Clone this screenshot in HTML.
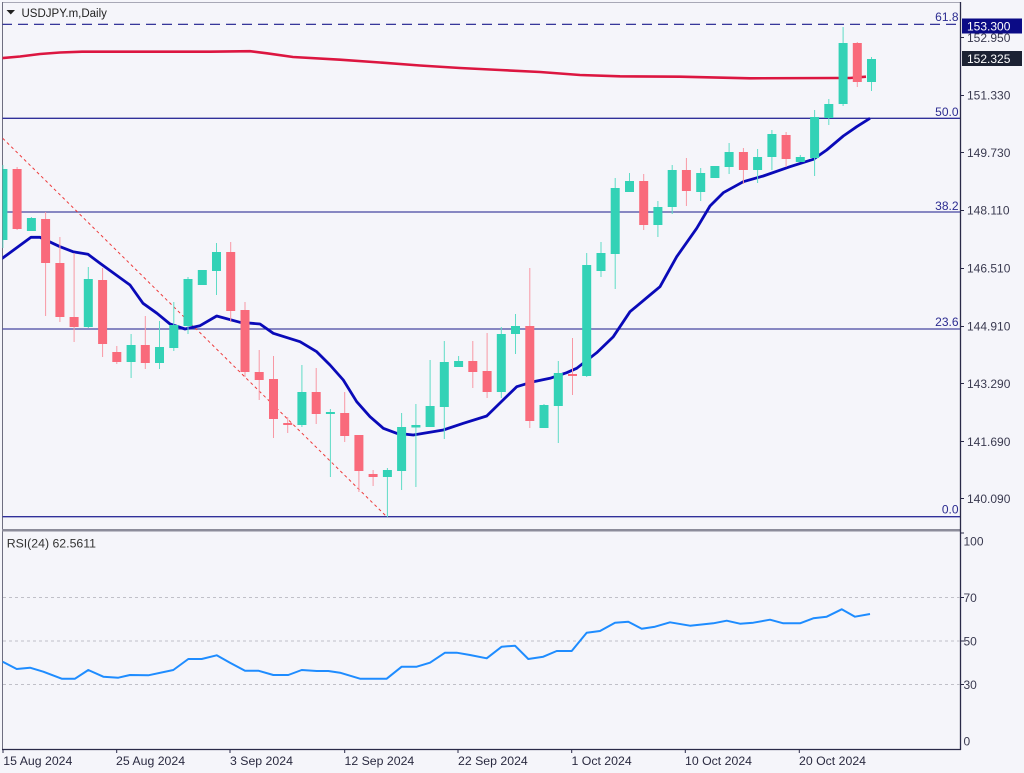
<!DOCTYPE html>
<html><head><meta charset="utf-8"><style>
html,body{margin:0;padding:0;background:#f5f5fa;}
svg{display:block;}
text{font-family:"Liberation Sans",Arial,sans-serif;}
</style></head><body>
<svg width="1024" height="773" viewBox="0 0 1024 773" xmlns="http://www.w3.org/2000/svg">
<rect x="0" y="0" width="1024" height="773" fill="#f5f5fa"/>
<defs>
<clipPath id="pc"><rect x="2.5" y="2.5" width="958" height="526"/></clipPath>
<clipPath id="rc"><rect x="2.5" y="532" width="958" height="217"/></clipPath>
</defs>

<!-- frame -->
<line x1="2" y1="2.5" x2="960.5" y2="2.5" stroke="#a8a8b6" stroke-width="1"/>
<line x1="2.5" y1="2" x2="2.5" y2="749" stroke="#6e6e80" stroke-width="1"/>
<rect x="2" y="529" width="959" height="2.5" fill="#8c8c9a"/>
<line x1="2" y1="749.5" x2="961" y2="749.5" stroke="#2a2a48" stroke-width="1.3"/>
<line x1="960.5" y1="2" x2="960.5" y2="750" stroke="#2a2a48" stroke-width="1.3"/>

<g clip-path="url(#pc)">
<!-- fib lines -->
<line x1="2" y1="24.3" x2="960" y2="24.3" stroke="#1c1c8c" stroke-width="1.2" stroke-dasharray="10 6"/>
<line x1="2" y1="118.3" x2="960" y2="118.3" stroke="#30309a" stroke-width="1.3"/>
<line x1="2" y1="212" x2="960" y2="212" stroke="#4646a0" stroke-width="1.3"/>
<line x1="2" y1="329" x2="960" y2="329" stroke="#4646a0" stroke-width="1.3"/>
<line x1="2" y1="516.7" x2="960" y2="516.7" stroke="#30309a" stroke-width="1.3"/>

<!-- trendline -->
<line x1="2.7" y1="138.3" x2="386" y2="516" stroke="#ee3c3c" stroke-width="1" stroke-dasharray="3 3"/>

<!-- red MA -->
<polyline fill="none" stroke="#dc1640" stroke-width="2.6" points="0,58.3 20,56.5 40,54 60,52.5 82,51.7 210,51.7 250,51.2 267,53.3 293,57 340,59.7 380,62.5 420,65.5 460,68 500,70 540,72 580,75 620,76.3 680,76.7 750,78.3 835,78 850,78 866,76.7"/>

<!-- blue MA -->
<polyline fill="none" stroke="#0a0ab8" stroke-width="2.8" stroke-linejoin="round" points="0,260 31,237.3 40,237.3 60,246.7 73,251.7 88,254.3 100,263.3 130,285 143,303.3 157,313.3 170,324 185,329 200,325.7 216.7,316 240,322.3 260,324 273.3,333.3 300,341.7 316.7,351.7 330,365 343.3,380 356.7,401.7 370,416.7 383.3,428.3 396.7,433.3 413.3,435 443.3,430 463.3,423.3 486.7,416 516.7,386.7 533.3,381.7 550,378.3 566.7,372.7 576.7,368.3 596.7,352.7 613.3,336.7 630,311.7 650,295 660,286.7 676.7,256.7 696.7,228.3 710,206 723.3,192.7 743.3,181.7 763.3,176 790,166.7 813.3,159.3 826.7,150 843.3,136 856.7,126.7 870,118.3"/>

<!-- green candles -->
<g stroke="#5fdcc6" fill="#33d2b6" stroke-width="1">
<line x1="2.9" y1="165" x2="2.9" y2="248"/><rect x="-1.6" y="169" width="9" height="71" stroke="none"/>
<line x1="31.4" y1="217" x2="31.4" y2="231"/><rect x="26.9" y="218" width="9" height="13" stroke="none"/>
<line x1="88.3" y1="267" x2="88.3" y2="328"/><rect x="83.8" y="279" width="9" height="48" stroke="none"/>
<line x1="131.1" y1="334" x2="131.1" y2="378"/><rect x="126.6" y="345" width="9" height="17" stroke="none"/>
<line x1="159.5" y1="321" x2="159.5" y2="369"/><rect x="155" y="347" width="9" height="16" stroke="none"/>
<line x1="173.8" y1="302" x2="173.8" y2="351"/><rect x="169.3" y="325" width="9" height="23" stroke="none"/>
<line x1="188" y1="277" x2="188" y2="334"/><rect x="183.5" y="279" width="9" height="47" stroke="none"/>
<rect x="197.8" y="270" width="9" height="15" stroke="none"/>
<line x1="216.5" y1="243" x2="216.5" y2="295"/><rect x="212" y="252" width="9" height="19" stroke="none"/>
<line x1="301.9" y1="365" x2="301.9" y2="427"/><rect x="297.4" y="392" width="9" height="33" stroke="none"/>
<line x1="330.4" y1="409" x2="330.4" y2="477"/><rect x="325.9" y="412" width="9" height="2" stroke="none"/>
<line x1="387.4" y1="468" x2="387.4" y2="517"/><rect x="382.9" y="470" width="9" height="7" stroke="none"/>
<line x1="401.6" y1="413" x2="401.6" y2="490"/><rect x="397.1" y="427" width="9" height="44" stroke="none"/>
<line x1="415.9" y1="404" x2="415.9" y2="487"/><rect x="411.4" y="425" width="9" height="2.5" stroke="none"/>
<line x1="430.1" y1="360" x2="430.1" y2="427"/><rect x="425.6" y="406" width="9" height="21" stroke="none"/>
<line x1="444.3" y1="341" x2="444.3" y2="439"/><rect x="439.8" y="362" width="9" height="45" stroke="none"/>
<line x1="458.6" y1="356" x2="458.6" y2="367"/><rect x="454.1" y="361" width="9" height="6" stroke="none"/>
<line x1="501.3" y1="327" x2="501.3" y2="398"/><rect x="496.8" y="334" width="9" height="58" stroke="none"/>
<line x1="515.5" y1="314" x2="515.5" y2="354"/><rect x="511" y="326" width="9" height="8" stroke="none"/>
<line x1="544" y1="404" x2="544" y2="428"/><rect x="539.5" y="405" width="9" height="23" stroke="none"/>
<line x1="558.3" y1="361" x2="558.3" y2="443"/><rect x="553.8" y="373" width="9" height="33" stroke="none"/>
<line x1="586.7" y1="253" x2="586.7" y2="377"/><rect x="582.2" y="265" width="9" height="111" stroke="none"/>
<line x1="601" y1="242" x2="601" y2="277"/><rect x="596.5" y="253" width="9" height="18" stroke="none"/>
<line x1="615.2" y1="178" x2="615.2" y2="289"/><rect x="610.7" y="188" width="9" height="66" stroke="none"/>
<line x1="629.5" y1="173" x2="629.5" y2="192"/><rect x="625" y="181" width="9" height="11" stroke="none"/>
<line x1="657.9" y1="201" x2="657.9" y2="237"/><rect x="653.4" y="207" width="9" height="18" stroke="none"/>
<line x1="672.2" y1="165" x2="672.2" y2="214"/><rect x="667.7" y="170" width="9" height="37" stroke="none"/>
<line x1="700.7" y1="168" x2="700.7" y2="201"/><rect x="696.2" y="173" width="9" height="19" stroke="none"/>
<rect x="710.4" y="166" width="9" height="12" stroke="none"/>
<line x1="729.1" y1="143" x2="729.1" y2="174"/><rect x="724.6" y="152" width="9" height="15" stroke="none"/>
<line x1="757.6" y1="149" x2="757.6" y2="183"/><rect x="753.1" y="157" width="9" height="13" stroke="none"/>
<line x1="771.9" y1="130" x2="771.9" y2="170"/><rect x="767.4" y="134" width="9" height="23" stroke="none"/>
<line x1="800.3" y1="155" x2="800.3" y2="162"/><rect x="795.8" y="157" width="9" height="5" stroke="none"/>
<line x1="814.6" y1="110" x2="814.6" y2="176"/><rect x="810.1" y="117" width="9" height="41" stroke="none"/>
<line x1="828.8" y1="99" x2="828.8" y2="125"/><rect x="824.3" y="104" width="9" height="14" stroke="none"/>
<line x1="843.1" y1="27" x2="843.1" y2="106"/><rect x="838.6" y="43" width="9" height="61" stroke="none"/>
<line x1="871.5" y1="57" x2="871.5" y2="91"/><rect x="867" y="59" width="9" height="23" stroke="none"/>
</g>

<!-- red candles -->
<g stroke="#f898a4" fill="#f96a7b" stroke-width="1">
<line x1="17.1" y1="167" x2="17.1" y2="230"/><rect x="12.6" y="169" width="9" height="60" stroke="none"/>
<line x1="45.6" y1="212" x2="45.6" y2="316"/><rect x="41.1" y="219" width="9" height="44" stroke="none"/>
<line x1="59.9" y1="237" x2="59.9" y2="322"/><rect x="55.4" y="263" width="9" height="54" stroke="none"/>
<line x1="74.1" y1="253" x2="74.1" y2="342"/><rect x="69.6" y="317" width="9" height="10" stroke="none"/>
<line x1="102.6" y1="268" x2="102.6" y2="357"/><rect x="98.1" y="280" width="9" height="64" stroke="none"/>
<line x1="116.8" y1="346" x2="116.8" y2="364"/><rect x="112.3" y="352" width="9" height="10" stroke="none"/>
<line x1="145.3" y1="316" x2="145.3" y2="369"/><rect x="140.8" y="345" width="9" height="18" stroke="none"/>
<line x1="230.7" y1="242" x2="230.7" y2="322"/><rect x="226.2" y="252" width="9" height="59" stroke="none"/>
<line x1="245" y1="302" x2="245" y2="377"/><rect x="240.5" y="310" width="9" height="62" stroke="none"/>
<line x1="259.2" y1="350" x2="259.2" y2="400"/><rect x="254.7" y="372" width="9" height="8" stroke="none"/>
<line x1="273.5" y1="356" x2="273.5" y2="438"/><rect x="269" y="379" width="9" height="40" stroke="none"/>
<line x1="287.7" y1="417" x2="287.7" y2="433"/><rect x="283.2" y="423" width="9" height="2" stroke="none"/>
<line x1="316.2" y1="368" x2="316.2" y2="424"/><rect x="311.7" y="392" width="9" height="22" stroke="none"/>
<line x1="344.7" y1="392" x2="344.7" y2="442"/><rect x="340.2" y="413" width="9" height="23" stroke="none"/>
<line x1="358.9" y1="435" x2="358.9" y2="492"/><rect x="354.4" y="435" width="9" height="36" stroke="none"/>
<line x1="373.1" y1="470" x2="373.1" y2="486"/><rect x="368.6" y="474" width="9" height="3" stroke="none"/>
<line x1="472.8" y1="341" x2="472.8" y2="388"/><rect x="468.3" y="361" width="9" height="11" stroke="none"/>
<line x1="487.1" y1="333" x2="487.1" y2="398"/><rect x="482.6" y="371" width="9" height="21" stroke="none"/>
<line x1="529.8" y1="268" x2="529.8" y2="428"/><rect x="525.3" y="326" width="9" height="95" stroke="none"/>
<line x1="572.5" y1="338" x2="572.5" y2="395"/><rect x="568" y="374" width="9" height="2" stroke="none"/>
<line x1="643.7" y1="174" x2="643.7" y2="230"/><rect x="639.2" y="181" width="9" height="44" stroke="none"/>
<line x1="686.4" y1="158" x2="686.4" y2="206"/><rect x="681.9" y="170" width="9" height="21" stroke="none"/>
<line x1="743.4" y1="148" x2="743.4" y2="184"/><rect x="738.9" y="152" width="9" height="18" stroke="none"/>
<line x1="786.1" y1="132" x2="786.1" y2="167"/><rect x="781.6" y="135" width="9" height="24" stroke="none"/>
<line x1="857.3" y1="42" x2="857.3" y2="87"/><rect x="852.8" y="43" width="9" height="39" stroke="none"/>
</g>
</g>

<!-- fib labels -->
<g fill="#2b2b90" font-size="12" text-anchor="end">
<text x="958.5" y="21">61.8</text>
<text x="958.5" y="116">50.0</text>
<text x="958.5" y="210">38.2</text>
<text x="958.5" y="326">23.6</text>
<text x="958.5" y="513.5">0.0</text>
</g>

<!-- title -->
<polygon points="6.5,10 15,10 10.75,14.5" fill="#222"/>
<text x="21.5" y="16.8" font-size="11.5" fill="#222">USDJPY.m,Daily</text>

<!-- price axis ticks & labels -->
<g stroke="#2a2a48" stroke-width="1">
<line x1="960" y1="37.5" x2="964" y2="37.5"/>
<line x1="960" y1="95.5" x2="964" y2="95.5"/>
<line x1="960" y1="152.5" x2="964" y2="152.5"/>
<line x1="960" y1="210.5" x2="964" y2="210.5"/>
<line x1="960" y1="268.5" x2="964" y2="268.5"/>
<line x1="960" y1="326.5" x2="964" y2="326.5"/>
<line x1="960" y1="383.5" x2="964" y2="383.5"/>
<line x1="960" y1="441.5" x2="964" y2="441.5"/>
<line x1="960" y1="498.5" x2="964" y2="498.5"/>
<line x1="960" y1="533" x2="964" y2="533"/>
<line x1="960" y1="597.5" x2="964" y2="597.5"/>
<line x1="960" y1="641" x2="964" y2="641"/>
<line x1="960" y1="684.5" x2="964" y2="684.5"/>
</g>
<g fill="#3a3a50" font-size="12">
<text x="967" y="41.8">152.950</text>
<text x="967" y="99.3">151.330</text>
<text x="967" y="157">149.730</text>
<text x="967" y="214.3">148.110</text>
<text x="967" y="272.6">146.510</text>
<text x="967" y="330.6">144.910</text>
<text x="967" y="388">143.290</text>
<text x="967" y="446">141.690</text>
<text x="967" y="503">140.090</text>
<text x="963.5" y="545.5">100</text>
<text x="963.5" y="602">70</text>
<text x="963.5" y="645.5">50</text>
<text x="963.5" y="689">30</text>
<text x="963.5" y="745.5">0</text>
</g>

<!-- price boxes -->
<rect x="962" y="18.5" width="60" height="15" fill="#0b0b86"/>
<text x="967" y="30.3" font-size="12" fill="#ffffff">153.300</text>
<rect x="962" y="51" width="60" height="15" fill="#1c2233"/>
<text x="967" y="62.8" font-size="12" fill="#ffffff">152.325</text>

<!-- RSI panel -->
<text x="6.7" y="547.5" font-size="12.3" fill="#333">RSI(24) 62.5611</text>
<g stroke="#c0c0c8" stroke-width="1" stroke-dasharray="3 3">
<line x1="3" y1="597.5" x2="960" y2="597.5"/>
<line x1="3" y1="641" x2="960" y2="641"/>
<line x1="3" y1="684.5" x2="960" y2="684.5"/>
</g>
<g clip-path="url(#rc)">
<polyline fill="none" stroke="#1e8cff" stroke-width="2" stroke-linejoin="round" points="2.7,661.7 16.7,669 30,667.7 43.3,671.7 61.7,678.7 75,678.7 88.3,670 103.3,676.7 118.3,677.7 130,675 148.3,675.3 173.3,670 188.3,659 201.7,659 216.7,655.3 230,662.7 245,670.7 258.3,670.7 273.3,675 288.3,675 301.7,670 316.7,671 328.3,671 340,672.7 360,678.7 386.7,678.7 401.7,666.7 416.7,666.7 430,662.7 445,652.7 456.7,652.7 470,655 486.7,658.3 501.7,646.7 515,645.7 528.3,659 543.3,656.7 556.7,651 571.7,651 586.7,632.7 600,631 615,622.7 628.3,621.7 641.7,628.7 655,626.7 670,622.3 690,625.7 713.3,623.3 726.7,620.7 740,623.7 753.3,622.7 770,619.7 783.3,623.3 800,623.3 813.3,618.3 826.7,616.7 841.7,609.3 855,616.7 870,614"/>
</g>

<!-- date axis -->
<g stroke="#2a2a48" stroke-width="1">
<line x1="3" y1="749" x2="3" y2="753"/>
<line x1="116.7" y1="749" x2="116.7" y2="753"/>
<line x1="230" y1="749" x2="230" y2="753"/>
<line x1="344.7" y1="749" x2="344.7" y2="753"/>
<line x1="458" y1="749" x2="458" y2="753"/>
<line x1="571.7" y1="749" x2="571.7" y2="753"/>
<line x1="685.3" y1="749" x2="685.3" y2="753"/>
<line x1="799.3" y1="749" x2="799.3" y2="753"/>
</g>
<g fill="#2a2a40" font-size="12.3">
<text x="3.3" y="765">15 Aug 2024</text>
<text x="116" y="765">25 Aug 2024</text>
<text x="230" y="765">3 Sep 2024</text>
<text x="344.5" y="765">12 Sep 2024</text>
<text x="458" y="765">22 Sep 2024</text>
<text x="571.5" y="765">1 Oct 2024</text>
<text x="685" y="765">10 Oct 2024</text>
<text x="799" y="765">20 Oct 2024</text>
</g>
</svg>
</body></html>
